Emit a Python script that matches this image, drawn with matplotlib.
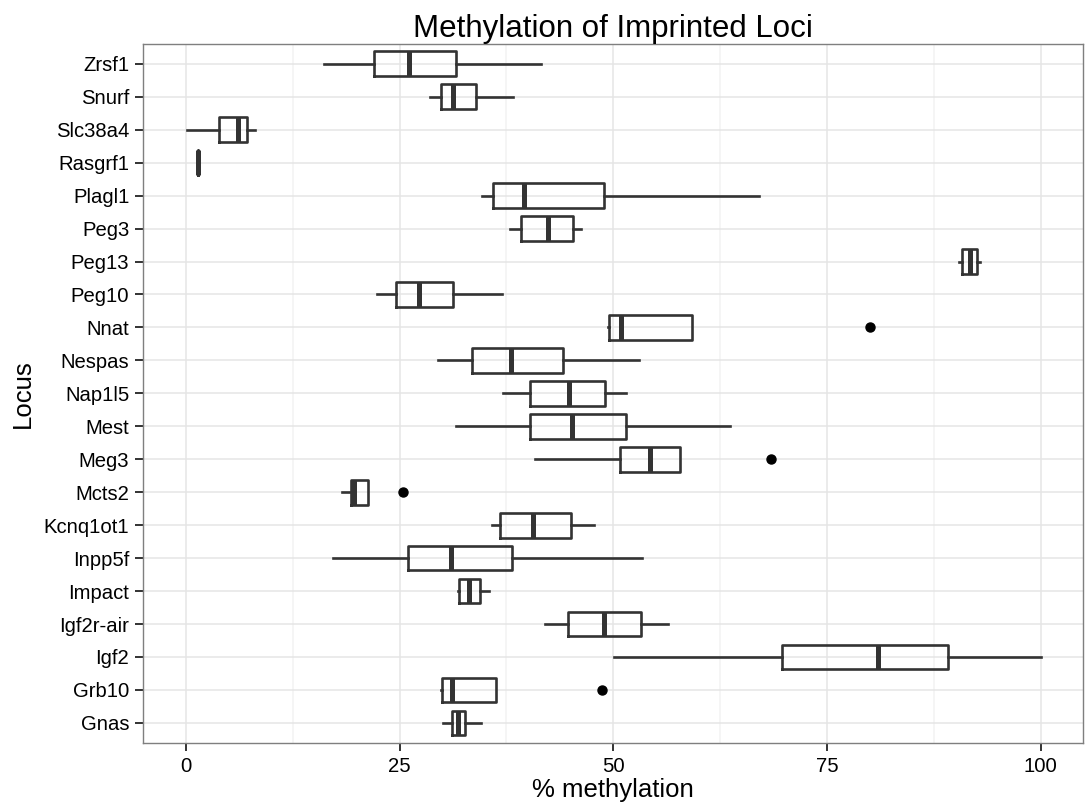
import matplotlib.pyplot as plt

plt.rcParams['font.family'] = ['Liberation Sans', 'DejaVu Sans']

# bottom to top
loci = ['Gnas', 'Grb10', 'Igf2', 'Igf2r-air', 'Impact', 'Inpp5f', 'Kcnq1ot1',
        'Mcts2', 'Meg3', 'Mest', 'Nap1l5', 'Nespas', 'Nnat', 'Peg10', 'Peg13',
        'Peg3', 'Plagl1', 'Rasgrf1', 'Slc38a4', 'Snurf', 'Zrsf1']

whis_lo = [30.1, 29.8, 50.1, 42.0, 31.8, 17.2, 35.8, 18.3, 40.8, 31.6, 37.1,
           29.5, 49.4, 22.3, 90.5, 37.9, 34.6, 1.37, 0.1, 28.6, 16.2]
q1 = [31.1, 30.0, 69.7, 44.7, 32.0, 26.0, 36.8, 19.35, 50.8, 40.2, 40.2,
      33.5, 49.5, 24.6, 90.85, 39.2, 35.9, 1.37, 3.9, 29.8, 22.0]
median = [31.8, 31.1, 81.0, 48.9, 33.1, 31.0, 40.6, 19.7, 54.3, 45.2, 44.8,
          38.0, 50.9, 27.3, 91.7, 42.4, 39.6, 1.37, 6.1, 31.3, 26.1]
q3 = [32.7, 36.3, 89.2, 53.2, 34.4, 38.1, 45.0, 21.3, 57.8, 51.5, 49.0,
      44.1, 59.2, 31.3, 92.5, 45.3, 48.9, 1.37, 7.2, 33.9, 31.6]
whis_hi = [34.5, 36.3, 100.0, 56.4, 35.4, 53.4, 47.8, 21.3, 57.8, 63.6, 51.5,
           53.0, 59.2, 37.0, 92.9, 46.2, 67.0, 1.37, 8.1, 38.3, 41.5]
outliers = [[], [48.7], [], [], [], [], [], [25.4], [68.4], [], [],
            [], [80.0], [], [], [], [], [], [], [], []]

stats = []
for i, name in enumerate(loci):
    stats.append(dict(label=name, whislo=whis_lo[i], q1=q1[i], med=median[i],
                      q3=q3[i], whishi=whis_hi[i], fliers=outliers[i]))

line_col = '#333333'
fig = plt.figure(figsize=(10.85, 8.09), dpi=100)
ax = fig.add_axes([0.132, 0.082, 0.8665, 0.8636])

ax.bxp(stats, positions=range(1, len(loci) + 1), widths=0.75,
       orientation='horizontal', showcaps=False,
       boxprops=dict(color=line_col, linewidth=1.9),
       whiskerprops=dict(color=line_col, linewidth=1.9),
       medianprops=dict(color=line_col, linewidth=3.6, solid_capstyle='butt'),
       flierprops=dict(marker='o', markerfacecolor='black',
                       markeredgecolor='black', markersize=6.5))

ax.set_xlim(-5, 105)
ax.set_ylim(0.4, len(loci) + 0.6)
ax.set_xticks([0, 25, 50, 75, 100])
ax.set_xticklabels(['0', '25', '50', '75', '100'])
ax.set_xticks([12.5, 37.5, 62.5, 87.5], minor=True)
ax.set_yticks(range(1, len(loci) + 1))
ax.set_yticklabels(loci)

ax.set_axisbelow(True)
ax.grid(which='major', color='#e5e5e5', linewidth=1.1)
ax.grid(which='minor', axis='x', color='#f3f3f3', linewidth=1.1)
for s in ax.spines.values():
    s.set_color('#7f7f7f')
    s.set_linewidth(1.0)

ax.tick_params(which='major', length=6, width=1.4, color=line_col,
               labelsize=14.6, labelcolor='black', pad=4)
ax.tick_params(which='minor', length=0)

ax.set_xlabel('% methylation', fontsize=18.5, labelpad=2)
ax.set_ylabel('Locus', fontsize=18.5, labelpad=6)
ax.set_title('Methylation of Imprinted Loci', fontsize=22.5, pad=5)

fig.savefig('out.png', dpi=100)
